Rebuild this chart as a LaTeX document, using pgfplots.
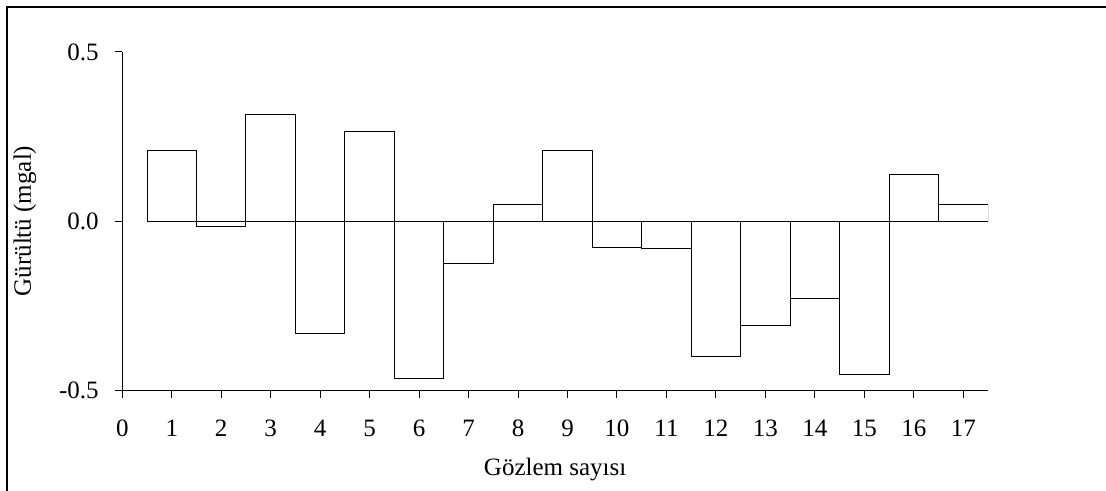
\documentclass[border=0pt]{standalone}
\usepackage{fontspec}
\setmainfont{Liberation Serif}
\usepackage{pgfplots}
\pgfplotsset{compat=1.18}
\begin{document}
\begin{tikzpicture}
\useasboundingbox (-61.15pt,-50.15pt) rectangle (491.85pt,195.35pt);
\draw[line width=1pt] (-57.65pt,-50.15pt) -- (-57.65pt,191.85pt) -- (491.85pt,191.85pt);
\begin{axis}[
  at={(0pt,0pt)}, anchor=south west,
  scale only axis, width=432.85pt, height=169.35pt,
  xmin=0, xmax=17.5, ymin=-0.5, ymax=0.5,
  axis x line=bottom, axis y line=left,
  axis line style={-, line width=0.5pt, black},
  xtick={0,...,17}, ytick={-0.5,0,0.5}, yticklabels={-0.5,0.0,0.5},
  tick align=outside, major tick length=3.5pt,
  tick style={line width=0.5pt, black},
  /pgf/number format/assume math mode=true,
  tick label style={font=\fontsize{12.5}{14}\selectfont, inner sep=0pt},
  xticklabel style={anchor=base, yshift=-19.15pt},
  yticklabel style={anchor=east, xshift=-8.15pt},
  xlabel={Gözlem sayısı}, ylabel={Gürültü (mgal)},
  label style={font=\fontsize{12.5}{14}\selectfont, inner sep=0pt},
  xlabel style={at={(axis description cs:0.5,-0.2489)}, anchor=base},
  ylabel style={at={(axis description cs:-0.1055,0.501)}, anchor=base},
]
\addplot[ybar, bar width=1, fill=white, draw=black, line width=0.5pt] coordinates {
(1,0.208) (2,-0.016) (3,0.314) (4,-0.332) (5,0.265) (6,-0.464) (7,-0.123)
(8,0.050) (9,0.210) (10,-0.076) (11,-0.079) (12,-0.398) (13,-0.308)
(14,-0.229) (15,-0.451) (16,0.139) (17,0.049)
};
\end{axis}
\end{tikzpicture}
\end{document}
